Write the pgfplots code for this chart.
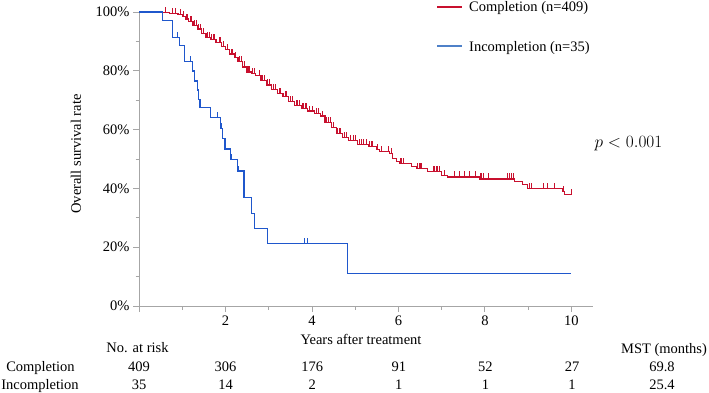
\documentclass[border=0pt]{standalone}
\usepackage{pgfplots}
\pgfplotsset{compat=1.18}
\usepackage{fontspec}
\setmainfont{Liberation Serif}

\definecolor{kmred}{RGB}{200,16,46}
\definecolor{kmblue}{RGB}{31,87,204}
\definecolor{legblue}{RGB}{79,129,200}
\definecolor{axgray}{RGB}{166,166,166}

% censoring mark: a short vertical stroke rising from the curve
\pgfdeclareplotmark{cens}{%
  \pgfpathmoveto{\pgfqpoint{0pt}{0pt}}%
  \pgfpathlineto{\pgfqpoint{0pt}{5.5pt}}%
  \pgfusepathqstroke}

\begin{document}
\begin{tikzpicture}[font=\fontsize{14.5}{17}\selectfont]
\useasboundingbox (0pt,0pt) rectangle (709pt,392pt);

\begin{axis}[
  at={(139pt,86pt)}, anchor=south west,
  scale only axis, width=454pt, height=294pt,
  xmin=0, xmax=10.5, ymin=0, ymax=100,
  axis x line*=bottom, axis y line*=left,
  axis line style={axgray, line width=0.9pt},
  xtick={0,2,4,6,8,10}, xticklabels={,2,4,6,8,10},
  minor xtick={1,3,5,7,9},
  ytick={0,20,40,60,80,100},
  yticklabels={0\%,20\%,40\%,60\%,80\%,100\%},
  minor ytick={10,30,50,70,90},
  tick align=outside,
  major tick length=6pt, minor tick length=3.5pt,
  tick style={axgray, line width=0.9pt},
  ticklabel style={font=\fontsize{14.5}{17}\selectfont},
  clip=false,
]

% Completion (n=409)
\addplot[kmred, const plot, line width=1.2pt] coordinates {
(0,100) (0.55,99.8) (0.7,99.5) (0.9,99.2) (1.0,98.6) (1.08,97.6)
(1.15,96.7) (1.25,95.5) (1.35,94.2) (1.45,92.8) (1.55,91.4) (1.65,90.6)
(1.78,89.5) (1.91,88.2) (2.0,87.3) (2.1,85.7) (2.2,84.5) (2.29,83.1)
(2.4,81.3) (2.5,79.6) (2.6,79.0) (2.7,78.3) (2.82,76.8) (2.95,75.2)
(3.06,73.6) (3.2,72.2) (3.33,71.3) (3.45,69.6) (3.6,68.3) (3.75,67.3)
(3.9,66.3) (4.05,65.6) (4.2,64.6) (4.3,62.5) (4.45,60.8) (4.56,58.6)
(4.7,57.3) (4.85,56.2) (5.06,55.0) (5.3,54.2) (5.49,53.1) (5.57,52.5)
(5.8,51.9) (5.87,50.2) (5.95,49.2) (6.03,48.4) (6.3,47.4) (6.41,46.8)
(6.68,45.7) (6.99,44.3) (7.14,43.9) (7.88,43.2) (8.68,42.3) (8.87,41.2)
(8.99,40.0) (9.8,38.9) (9.84,37.8) (10.0,37.8)
};
\addplot[kmred, only marks, mark=cens, mark options={line width=0.9pt}, forget plot] coordinates {
(0.62,99.8) (0.78,99.5) (0.85,99.5) (0.95,99.2) (1.03,98.6) (1.1,97.6)
(1.13,97.6) (1.18,96.7) (1.22,96.7) (1.28,95.5) (1.32,95.5) (1.38,94.2)
(1.42,94.2) (1.5,92.8) (1.58,91.4) (1.62,91.4) (1.68,90.6) (1.72,90.6)
(1.75,90.6) (1.85,89.5) (1.88,89.5) (1.95,88.2) (2.05,87.3) (2.13,85.7)
(2.16,85.7) (2.24,84.5) (2.33,83.1) (2.37,83.1) (2.45,81.3) (2.53,79.6)
(2.56,79.6) (2.63,79.0) (2.66,79.0) (2.78,78.3) (2.86,76.8) (2.9,76.8)
(2.98,75.2) (3.02,75.2) (3.1,73.6) (3.15,73.6) (3.24,72.2) (3.28,72.2)
(3.38,71.3) (3.42,71.3) (3.5,69.6) (3.55,69.6) (3.63,68.3) (3.66,68.3)
(3.7,68.3) (3.78,67.3) (3.81,67.3) (3.84,67.3) (3.87,67.3) (3.95,66.3)
(4.0,66.3) (4.1,65.6) (4.15,65.6) (4.24,64.6) (4.34,62.5) (4.38,62.5)
(4.42,62.5) (4.5,60.8) (4.6,58.6) (4.63,58.6) (4.66,58.6) (4.75,57.3)
(4.79,57.3) (4.9,56.2) (4.95,56.2) (5.0,56.2) (5.1,55.0) (5.15,55.0)
(5.2,55.0) (5.25,55.0) (5.33,54.2) (5.37,54.2) (5.41,54.2) (5.52,53.1)
(5.6,52.5) (5.76,52.5) (5.83,51.9) (6.05,48.4) (6.08,48.4) (6.11,48.4)
(6.45,46.8) (6.48,46.8) (6.5,46.8) (6.53,46.8) (6.8,45.7) (6.84,45.7)
(6.87,45.7) (6.91,45.7) (6.95,45.7) (7.07,44.3) (7.3,43.9) (7.41,43.9)
(7.53,43.9) (7.64,43.9) (7.78,43.9) (7.9,43.2) (7.93,43.2) (7.97,43.2)
(8.09,43.2) (8.53,43.2) (8.57,43.2) (8.61,43.2) (8.66,43.2) (9.03,40.0)
(9.07,40.0) (9.35,40.0) (9.45,40.0) (9.61,40.0) (9.82,38.9) (10.0,37.8)
};

% Incompletion (n=35)
\addplot[kmblue, const plot, line width=1.2pt] coordinates {
(0,100) (0.55,97.1) (0.77,91.4) (0.93,88.6) (1.05,83.1) (1.24,79.9)
(1.29,76.5) (1.35,73.5) (1.38,70.3) (1.41,67.5) (1.65,64.2) (1.88,60.4)
(1.93,57.0) (1.99,53.4) (2.12,49.9) (2.27,45.9) (2.43,36.8) (2.6,31.5)
(2.68,26.4) (2.97,21.3) (4.83,11.1) (10.0,11.1)
};
\addplot[kmblue, only marks, mark=cens, mark options={line width=0.9pt}, forget plot] coordinates {
(0.9,91.4) (1.18,83.1) (1.82,64.2) (1.90,60.4) (2.14,49.9) (2.31,45.9)
(3.83,21.3) (3.89,21.3)
};
\end{axis}

% axis titles
\node[rotate=90] at (76pt,238pt) {Overall survival rate};
\node[anchor=base] at (361pt,48pt) {Years after treatment};

% legend
\draw[kmred, line width=1.2pt] (437pt,385pt) -- (462pt,385pt);
\node[anchor=base west, inner sep=0pt] at (469pt,380.3pt) {Completion (n=409)};
\draw[legblue, line width=1.2pt] (437pt,346pt) -- (462pt,346pt);
\node[anchor=base west, inner sep=0pt] at (469pt,340.3pt) {Incompletion (n=35)};

% log-rank test
\node[anchor=base, font=\fontsize{17}{20}\selectfont] at (628.5pt,244.3pt) {$p < 0.001$};

% numbers at risk
\node[anchor=base] at (137.5pt,40pt) {No. at risk};
\node[anchor=base] at (664pt,39pt) {MST (months)};
\node[anchor=base] at (40.5pt,21pt) {Completion};
\node[anchor=base] at (40pt,3pt) {Incompletion};
\foreach \x/\a/\b in {139/409/35, 225.6/306/14, 312.2/176/2, 398.8/91/1, 485.4/52/1, 572/27/1} {
  \node[anchor=base] at (\x pt,21pt) {\a};
  \node[anchor=base] at (\x pt,3pt) {\b};
}
\node[anchor=base] at (662pt,21pt) {69.8};
\node[anchor=base] at (662pt,3pt) {25.4};
\end{tikzpicture}
\end{document}
